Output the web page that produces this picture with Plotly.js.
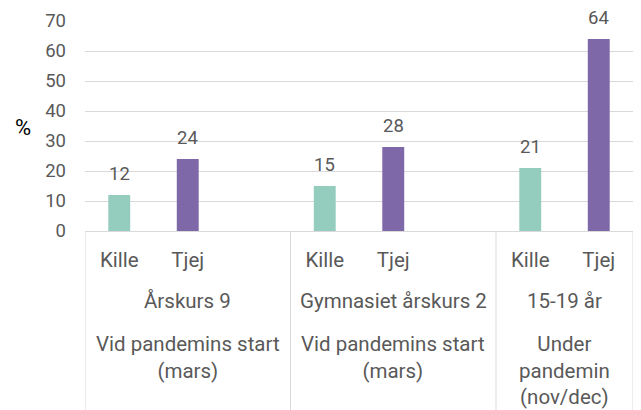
<!DOCTYPE html>
<html>
<head>
<meta charset="utf-8">
<script src="https://cdn.plot.ly/plotly-3.0.1.min.js"></script>
<style>html,body{margin:0;padding:0;background:#fff}#chart{width:641px;height:410px}</style>
</head>
<body>
<div id="chart"></div>
<script>
const groups = ["Årskurs 9", "Gymnasiet årskurs 2", "15-19 år"];
const periods = ["Vid pandemins start<br>(mars)", "Vid pandemins start<br>(mars)", "Under<br>pandemin<br>(nov/dec)"];
const sexes = ["Kille", "Tjej"];
const kille = [12, 15, 21];
const tjej = [24, 28, 64];
const yTicks = [0, 10, 20, 30, 40, 50, 60, 70];

const GREEN = "#94cdbd";
const PURPLE = "#7f68a8";
const TXT = "#595959";
const FONT = "Roboto, 'Open Sans', sans-serif";
const NUM = 18.5, CAT = 20.5;

// category slots: Kille, Tjej, and a spacer between groups
const cats = [], ticktext = [], groupIdx = [];
groups.forEach((g, i) => {
  sexes.forEach(s => { cats.push(g + "|" + s); ticktext.push(s); groupIdx.push(i); });
  if (i < groups.length - 1) { cats.push(g + "|"); ticktext.push(""); groupIdx.push(i); }
});

const traces = [
  {type: "bar", name: sexes[0], x: groups.map(g => g + "|" + sexes[0]), y: kille,
   marker: {color: GREEN}, width: 0.32, hoverinfo: "y"},
  {type: "bar", name: sexes[1], x: groups.map(g => g + "|" + sexes[1]), y: tjej,
   marker: {color: PURPLE}, width: 0.32, hoverinfo: "y"}
];

const annotations = [];
// value labels
[kille, tjej].forEach((vals, k) => {
  vals.forEach((v, i) => {
    annotations.push({x: groups[i] + "|" + sexes[k], y: v, xref: "x", yref: "y",
      text: String(v), showarrow: false, yanchor: "bottom", yshift: 8,
      font: {family: FONT, size: NUM, color: TXT}});
  });
});

// group boundaries in category index units
const bounds = [-0.5];
groups.forEach((g, i) => {
  let last = -1;
  groupIdx.forEach((gi, j) => { if (gi === i) last = j; });
  bounds.push(last + 0.5);
});
const plotH = 410 - 21 - 179;
const bottomY = -179 / plotH;
const shapes = bounds.map(b => ({type: "line", xref: "x", yref: "paper", x0: b, x1: b, y0: 0, y1: bottomY,
  line: {color: "#d9d9d9", width: 1}}));

groups.forEach((g, i) => {
  const cx = (bounds[i] + bounds[i + 1]) / 2;
  annotations.push({x: cx, xref: "x", yref: "paper", y: 0, yshift: -70, text: g, showarrow: false,
    yanchor: "middle", font: {family: FONT, size: CAT, color: TXT}});
  annotations.push({x: cx, xref: "x", yref: "paper", y: 0, yshift: -99, text: periods[i], showarrow: false,
    yanchor: "top", align: "center", font: {family: FONT, size: CAT, color: TXT}});
});

annotations.push({xref: "paper", yref: "paper", x: -0.114, y: 0.495, text: "%", showarrow: false,
  xanchor: "center", yanchor: "middle", font: {family: FONT, size: 22, color: "#000"}});

const layout = {
  width: 641, height: 410,
  margin: {l: 85, r: 8, t: 21, b: 179},
  paper_bgcolor: "#fff", plot_bgcolor: "#fff",
  barmode: "overlay",
  showlegend: false,
  font: {family: FONT, size: NUM, color: TXT},
  xaxis: {type: "category", categoryorder: "array", categoryarray: cats,
    tickvals: cats, ticktext: ticktext, range: [-0.5, cats.length - 0.5],
    showline: true, linecolor: "#d9d9d9", linewidth: 1, showgrid: false, zeroline: false,
    ticks: "", ticklabelstandoff: 10,
    tickfont: {family: FONT, size: CAT, color: TXT}},
  yaxis: {range: [0, 70], tickvals: yTicks, showgrid: true, gridcolor: "#d9d9d9", gridwidth: 1,
    zeroline: false, showline: false, ticks: "", ticklabelstandoff: 18,
    tickfont: {family: FONT, size: NUM, color: TXT}},
  shapes: shapes,
  annotations: annotations
};

Plotly.newPlot("chart", traces, layout, {displayModeBar: false, staticPlot: true});
</script>
</body>
</html>
